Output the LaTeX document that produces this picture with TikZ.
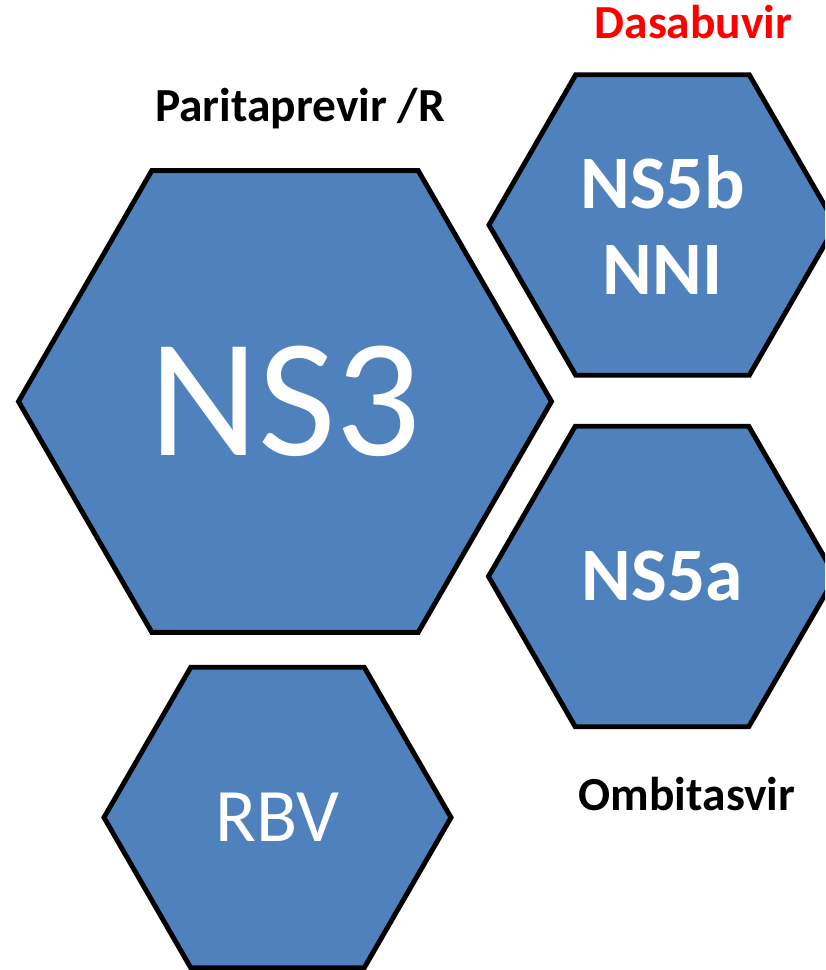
\documentclass[tikz,border=0pt]{standalone}
\usepackage{fontspec}
\setmainfont{Carlito}
\usetikzlibrary{shapes.geometric}
\definecolor{hexblue}{HTML}{4F81BD}
\begin{document}
\begin{tikzpicture}[
    hexa/.style={regular polygon, regular polygon sides=6, draw=black, line width=2.8pt,
        fill=hexblue, text=white, align=center, inner sep=0pt, minimum size=6.94cm,
        font=\fontsize{43}{49.5}\selectfont},
    drug/.style={anchor=base, font=\fontsize{27}{32}\selectfont\bfseries}]
    \clip (0,0) rectangle (16.5,19.4);
    % the four protein targets
    \node[hexa, minimum size=10.66cm, font=\fontsize{96}{110}\selectfont] (ns3) at (5.70,11.37) {NS3};
    \node[hexa, font=\fontsize{43}{49.5}\selectfont\bfseries] (ns5b) at (13.25,14.90) {NS5b\\NNI};
    \node[hexa, font=\fontsize{43}{49.5}\selectfont\bfseries] (ns5a) at (13.24,7.87) {NS5a};
    \node[hexa] (rbv) at (5.55,3.05) {RBV};
    % drug names
    \node[drug] (parita) at (6.00,16.96) {Paritaprevir /R};
    \node[drug, text=red] (dasa) at (13.87,18.62) {Dasabuvir};
    \node[drug] (ombi) at (13.74,3.18) {Ombitasvir};
\end{tikzpicture}
\end{document}
